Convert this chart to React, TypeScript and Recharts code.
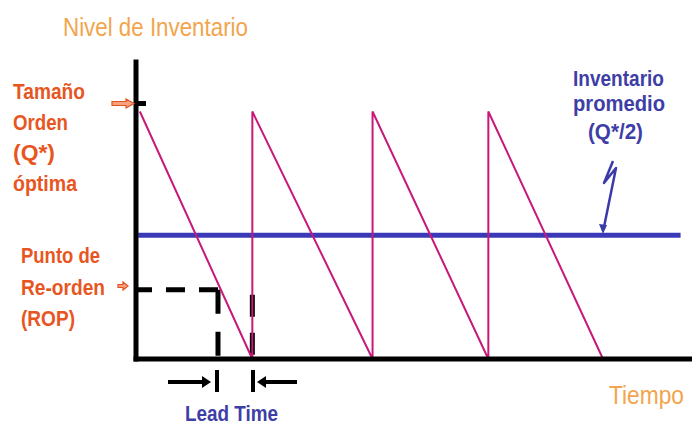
import React from "react";
import { LineChart, Line, XAxis, YAxis, ReferenceLine } from "recharts";

// Inventory sawtooth (time units 0..100, inventory level with Q* = 100)
const sawTimes = [0.7, 21, 21, 42.7, 42.7, 63.6, 63.6, 84.3];
const sawLevels = [100, 0, 100, 0, 100, 0, 100, 0];

// Average inventory (Q*/2)
const avgTimes = [0.4, 98.3];
const avgLevels = [50, 50];

// Reorder point & lead time
const ropLevel = 28;
const reorderTime = 14.8;
const arrivalTime = 21;
const arrivalMarkTop = 26;

// Axis extents
const xMax = 100;
const yMax = 120;

const sawData = sawTimes.map((t, i) => ({ t, v: sawLevels[i] }));
const avgData = avgTimes.map((t, i) => ({ t, v: avgLevels[i] }));
const ropH = [
  { t: reorderTime, v: ropLevel },
  { t: 0, v: ropLevel },
];
const ropV = [
  { t: reorderTime, v: ropLevel },
  { t: reorderTime, v: 0 },
];
const ltV = [
  { t: arrivalTime, v: arrivalMarkTop },
  { t: arrivalTime, v: 0 },
];

const ORANGE = "#E8561F";
const LIGHT = "#F2A54E";
const BLUE_T = "#3E3EA6";
const FONT = '"Liberation Sans Narrow", "Liberation Sans", Arial, sans-serif';

type TProps = { x: number; y: number; len: number; children: string; fill: string; size?: number; weight?: string };
const T = ({ x, y, len, children, fill, size = 22, weight = "bold" }: TProps) => (
  <text
    x={x}
    y={y}
    textLength={len}
    lengthAdjust="spacingAndGlyphs"
    fontFamily={FONT}
    fontSize={size}
    fontWeight={weight}
    fill={fill}
  >
    {children}
  </text>
);

export default function App() {
  return (
    <div style={{ position: "absolute", left: 0, top: 0, width: 692, height: 428, background: "#fff" }}>
      <LineChart width={692} height={428} margin={{ top: 62, right: 2, bottom: 69, left: 136 }}>
        <XAxis type="number" dataKey="t" domain={[0, xMax]} hide />
        <YAxis type="number" dataKey="v" domain={[0, yMax]} hide />
        <Line data={avgData} dataKey="v" stroke="#3A3AB8" strokeWidth={5} dot={false} activeDot={false} isAnimationActive={false} />
        <Line data={ropH} dataKey="v" stroke="#000" strokeWidth={5} strokeDasharray="19 14" dot={false} activeDot={false} isAnimationActive={false} />
        <Line data={ropV} dataKey="v" stroke="#000" strokeWidth={5} strokeDasharray="24 18" dot={false} activeDot={false} isAnimationActive={false} />
        <Line data={ltV} dataKey="v" stroke="#000" strokeWidth={5} strokeDasharray="22 16" dot={false} activeDot={false} isAnimationActive={false} />
        <Line data={sawData} dataKey="v" stroke="#C8187A" strokeWidth={2} dot={false} activeDot={false} isAnimationActive={false} />
        <ReferenceLine
          segment={[{ x: 0, y: 0 }, { x: 0, y: yMax }]}
          stroke="#000"
          strokeWidth={5}
          strokeLinecap="square"
          ifOverflow="visible"
        />
        <ReferenceLine
          segment={[{ x: 0, y: 0 }, { x: xMax, y: 0 }]}
          stroke="#000"
          strokeWidth={5}
          strokeLinecap="square"
          ifOverflow="visible"
        />
      </LineChart>
      <svg
        width={692}
        height={428}
        style={{ position: "absolute", left: 0, top: 0, pointerEvents: "none" }}
      >
        <T x={63} y={36} len={185} fill={LIGHT} size={26} weight="normal">Nivel de Inventario</T>
        <T x={13} y={99} len={72} fill={ORANGE}>Tamaño</T>
        <T x={13} y={130} len={55} fill={ORANGE}>Orden</T>
        <T x={13} y={160} len={42} fill={ORANGE}>(Q*)</T>
        <T x={13} y={191} len={64} fill={ORANGE}>óptima</T>
        <T x={21} y={263} len={79} fill={ORANGE}>Punto de</T>
        <T x={21} y={295} len={84} fill={ORANGE}>Re-orden</T>
        <T x={21} y={326} len={54} fill={ORANGE}>(ROP)</T>
        <T x={573} y={86} len={91} fill={BLUE_T}>Inventario</T>
        <T x={573} y={111} len={92} fill={BLUE_T}>promedio</T>
        <T x={588} y={139} len={55} fill={BLUE_T}>(Q*/2)</T>
        <T x={185} y={421} len={93} fill={BLUE_T}>Lead Time</T>
        <T x={609} y={404} len={75} fill={LIGHT} size={25} weight="normal">Tiempo</T>

        {/* top tick on Q* */}
        <line x1={136} y1={103.5} x2={146} y2={103.5} stroke="#000" strokeWidth={5} />
        {/* orange hollow arrows */}
        <polygon
          points="112,101.5 126,101.5 126,99 134,103.5 126,108 126,105.5 112,105.5"
          fill="#F6A27E"
          stroke="#E4501E"
          strokeWidth={1.2}
        />
        <polygon
          points="118,284.5 123,284.5 123,282 128,286 123,290 123,287.5 118,287.5"
          fill="#F6A27E"
          stroke="#E4501E"
          strokeWidth={1.2}
        />
        {/* lead time arrows */}
        <line x1={168} y1={382} x2={204} y2={382} stroke="#000" strokeWidth={4} />
        <polygon points="202,376 211,382 202,388" fill="#000" />
        <line x1={217} y1={370} x2={217} y2={392} stroke="#000" strokeWidth={4} />
        <line x1={253} y1={370} x2={253} y2={392} stroke="#000" strokeWidth={4} />
        <polygon points="257,382 266,376 266,388" fill="#000" />
        <line x1={264} y1={382} x2={297} y2={382} stroke="#000" strokeWidth={4} />
        {/* lightning pointer */}
        <polyline
          points="613,161 604,183 616,168 604,227"
          fill="none"
          stroke="#3A3AA8"
          strokeWidth={2.5}
          strokeLinejoin="round"
        />
        <polygon points="603,234 599,224 607,225" fill="#3A3AA8" />
      </svg>
    </div>
  );
}
